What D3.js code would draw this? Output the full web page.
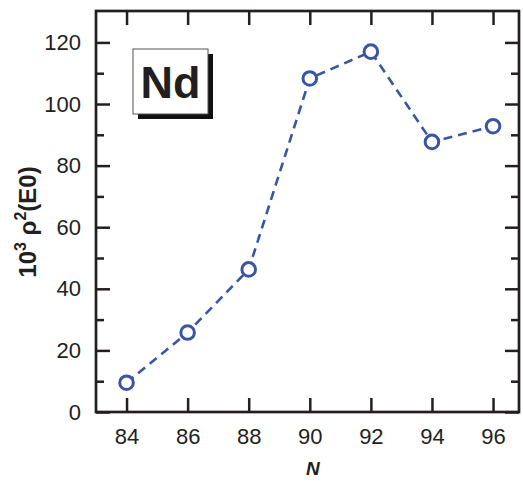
<!DOCTYPE html>
<html>
<head>
<meta charset="utf-8">
<script src="https://cdn.jsdelivr.net/npm/d3@7"></script>
<style>
  body { margin: 0; background: #fff; }
  svg text { font-family: "Liberation Sans", Arial, sans-serif; fill: #231f20; }
</style>
</head>
<body>
<div id="chart"></div>
<script>
// values
var neutrons = [84, 86, 88, 90, 92, 94, 96];
var rho2 = [9.5, 25.8, 46.3, 108.3, 117.0, 87.7, 92.8];
var xTicks = [84, 86, 88, 90, 92, 94, 96];
var yTicks = [0, 20, 40, 60, 80, 100, 120];
var yMinor = [10, 30, 50, 70, 90, 110];

var W = 523, H = 481;
var margin = {top: 11, right: 4, bottom: 69, left: 96};
var width = W - margin.left - margin.right,
    height = H - margin.top - margin.bottom;
var ink = "#231f20", blue = "#3a55a4";

var svg = d3.select("#chart").append("svg")
  .attr("width", W).attr("height", H)
  .append("g")
  .attr("transform", "translate(" + margin.left + "," + margin.top + ")");

var x = d3.scaleLinear().domain([83, 96.85]).range([0, width]);
var y = d3.scaleLinear().domain([0, 130.2]).range([height, 0]);

/* axes - ticks point inward on all four sides */
function styleAxis(g) {
  g.select(".domain").remove();
  g.selectAll("line").attr("stroke", ink).attr("stroke-width", 2.5);
  g.selectAll("text").style("font-size", "22px").attr("fill", ink);
}

svg.append("g")
  .attr("transform", "translate(0," + height + ")")
  .call(d3.axisBottom(x).tickValues(xTicks).tickSize(-14).tickPadding(16).tickFormat(d3.format("d")))
  .call(styleAxis);

svg.append("g")
  .call(d3.axisTop(x).tickValues(xTicks).tickSize(-14).tickFormat(""))
  .call(styleAxis);

svg.append("g")
  .call(d3.axisLeft(y).tickValues(yTicks).tickSize(-14).tickPadding(15))
  .call(styleAxis);
svg.append("g")
  .call(d3.axisLeft(y).tickValues(yMinor).tickSize(-8).tickFormat(""))
  .call(styleAxis);

svg.append("g")
  .attr("transform", "translate(" + width + ",0)")
  .call(d3.axisRight(y).tickValues(yTicks).tickSize(-14).tickFormat(""))
  .call(styleAxis);
svg.append("g")
  .attr("transform", "translate(" + width + ",0)")
  .call(d3.axisRight(y).tickValues(yMinor).tickSize(-8).tickFormat(""))
  .call(styleAxis);

// frame
svg.append("rect")
  .attr("width", width).attr("height", height)
  .attr("fill", "none").attr("stroke", ink).attr("stroke-width", 2.7);

/* data line + open circles */
var pts = neutrons.map(function(n, i) { return {n: n, v: rho2[i]}; });

svg.append("path")
  .datum(pts)
  .attr("d", d3.line().x(d => x(d.n)).y(d => y(d.v)))
  .attr("fill", "none")
  .attr("stroke", blue)
  .attr("stroke-width", 2.6)
  .attr("stroke-dasharray", "9,6");

svg.selectAll(".pt")
  .data(pts)
  .enter().append("circle")
  .attr("class", "pt")
  .attr("cx", d => x(d.n))
  .attr("cy", d => y(d.v))
  .attr("r", 6.8)
  .attr("fill", "#fff")
  .attr("stroke", blue)
  .attr("stroke-width", 3);

/* Nd label box with drop shadow */
var box = svg.append("g").attr("transform", "translate(37,38)");
box.append("rect").attr("x", 5).attr("y", 5).attr("width", 75).attr("height", 65).attr("fill", "#111");
box.append("rect").attr("width", 75).attr("height", 65).attr("fill", "#fff")
  .attr("stroke", "#555").attr("stroke-width", 1);
box.append("text")
  .attr("x", 37.5).attr("y", 49)
  .attr("text-anchor", "middle")
  .style("font-size", "45px").style("font-weight", "bold")
  .attr("fill", "#000")
  .text("Nd");

/* axis titles */
var ylab = svg.append("text")
  .attr("transform", "translate(-60,211) rotate(-90)")
  .attr("text-anchor", "middle")
  .style("font-size", "24px").style("font-weight", "bold");
ylab.append("tspan").text("10");
ylab.append("tspan").attr("dy", -10).style("font-size", "16px").text("3");
ylab.append("tspan").attr("dy", 10).text(" \u03c1");
ylab.append("tspan").attr("dy", -10).style("font-size", "16px").text("2");
ylab.append("tspan").attr("dy", 10).text("(E0)");

svg.append("text")
  .attr("x", x(90) + 3).attr("y", height + 63)
  .attr("text-anchor", "middle")
  .style("font-size", "19px").style("font-weight", "bold").style("font-style", "italic")
  .text("N");
</script>
</body>
</html>
